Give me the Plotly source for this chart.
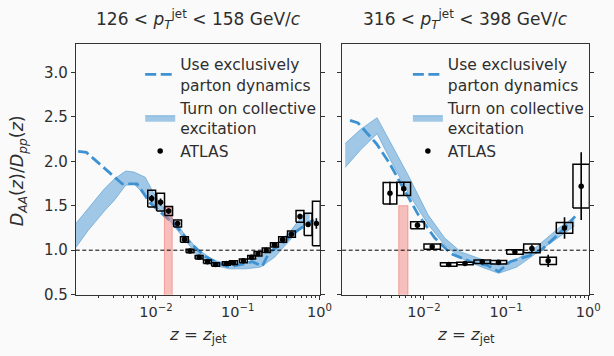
import plotly.graph_objects as go

# ---------------- data: left panel (126 < pT < 158 GeV/c) ----------------
L_MODEL_Z = [0.00112, 0.00141, 0.00389, 0.00589, 0.00851, 0.0135, 0.0178, 0.0251, 0.0398,
             0.0631, 0.0794, 0.112, 0.151, 0.200, 0.240, 0.355, 0.501, 0.708, 0.851]
L_MODEL_Y = [2.11, 2.10, 1.745, 1.745, 1.53, 1.37, 1.27, 1.10, 0.93,
             0.84, 0.81, 0.84, 0.87, 0.82, 0.97, 1.08, 1.20, 1.30, 1.34]

L_BAND_Z = [0.00105, 0.00148, 0.00234, 0.00309, 0.00427, 0.00537, 0.00741, 0.00977, 0.0126, 0.0158,
            0.0224, 0.0316, 0.0501, 0.0794, 0.126, 0.191, 0.282, 0.447, 0.631, 0.759]
L_BAND_HI = [1.30, 1.47, 1.69, 1.80, 1.89, 1.88, 1.82, 1.61, 1.47, 1.36,
             1.18, 1.02, 0.89, 0.84, 0.86, 0.93, 1.03, 1.22, 1.40, 1.42]
L_BAND_LO = [1.03, 1.22, 1.44, 1.56, 1.73, 1.745, 1.62, 1.50, 1.40, 1.30,
             1.12, 0.95, 0.83, 0.79, 0.79, 0.81, 0.92, 1.12, 1.28, 1.32]

L_ATLAS_Z = [0.00887, 0.0114, 0.0143, 0.0184, 0.0223, 0.0261, 0.0337, 0.0426, 0.0536, 0.0726, 0.0887,
             0.117, 0.148, 0.177, 0.223, 0.281, 0.354, 0.454, 0.577, 0.726, 0.916]
L_ATLAS_Y = [1.58, 1.54, 1.44, 1.30, 1.12, 0.99, 0.92, 0.87, 0.84, 0.85, 0.86,
             0.88, 0.92, 0.96, 1.00, 1.06, 1.12, 1.18, 1.38, 1.29, 1.30]
L_ATLAS_STAT = [0.04, 0.04, 0.03, 0.02, 0.01, 0.01, 0.01, 0.01, 0.01, 0.01, 0.01,
                0.01, 0.01, 0.01, 0.01, 0.01, 0.01, 0.02, 0.03, 0.03, 0.06]
L_ATLAS_SYST = [0.095, 0.10, 0.05, 0.04, 0.03, 0.02, 0.02, 0.02, 0.02, 0.02, 0.02,
                0.02, 0.02, 0.025, 0.025, 0.025, 0.03, 0.035, 0.065, 0.125, 0.25]
L_ATLAS_BIN_HW = [0.048] * 21          # half bin width in decades
L_MARKER_BAND = [0.0127, 0.0158, 1.48]  # z_low, z_high, top

# ---------------- data: right panel (316 < pT < 398 GeV/c) ----------------
R_MODEL_Z = [0.00126, 0.00158, 0.00263, 0.00380, 0.00537, 0.00851, 0.0135, 0.0214, 0.0372,
             0.0589, 0.0813, 0.112, 0.195, 0.275, 0.479, 0.692]
R_MODEL_Y = [2.46, 2.43, 2.20, 1.98, 1.73, 1.40, 1.14, 0.96, 0.87,
             0.83, 0.76, 0.87, 0.94, 1.01, 1.22, 1.38]

R_BAND_Z = [0.00110, 0.00170, 0.00269, 0.00398, 0.00646, 0.0112, 0.0178, 0.0282, 0.0537,
            0.0813, 0.135, 0.229, 0.437, 0.676]
R_BAND_HI = [2.20, 2.36, 2.49, 2.20, 1.84, 1.40, 1.14, 0.98, 0.89, 0.83, 0.90, 1.03, 1.25, 1.37]
R_BAND_LO = [1.93, 2.13, 2.31, 2.00, 1.64, 1.29, 1.06, 0.91, 0.80, 0.74, 0.81, 0.96, 1.14, 1.27]

R_ATLAS_Z = [0.00386, 0.00568, 0.00834, 0.0126, 0.0200, 0.0316, 0.0513, 0.0807, 0.128, 0.206, 0.325, 0.514, 0.820]
R_ATLAS_Y = [1.64, 1.69, 1.28, 1.04, 0.84, 0.85, 0.87, 0.865, 0.98, 1.02, 0.88, 1.25, 1.72]
R_ATLAS_STAT = [0.13, 0.08, 0.04, 0.02, 0.01, 0.01, 0.02, 0.02, 0.03, 0.04, 0.07, 0.12, 0.38]
R_ATLAS_SYST = [0.12, 0.075, 0.04, 0.03, 0.02, 0.015, 0.02, 0.02, 0.025, 0.05, 0.04, 0.06, 0.245]
R_ATLAS_BIN_HW = [0.083, 0.083, 0.083, 0.10, 0.10, 0.10, 0.10, 0.10, 0.10, 0.10, 0.10, 0.10, 0.10]
R_MARKER_BAND = [0.00494, 0.00638, 1.50]

TITLES = ["126 < <i>p</i><sub><i>T</i></sub><sup>jet</sup> < 158 GeV/<i>c</i>",
          "316 < <i>p</i><sub><i>T</i></sub><sup>jet</sup> < 398 GeV/<i>c</i>"]
NAMES = ["Use exclusively<br>parton dynamics", "Turn on collective<br>excitation", "ATLAS"]
REF_LEVEL = 1.0

FONT = "DejaVu Sans"
TXT = "#2e2e2e"
LINE_C = "#3f92d2"
BAND_FILL = "rgba(70,150,210,0.50)"
BAND_EDGE = "rgba(70,150,210,0.55)"
RED_FILL = "rgba(244,120,110,0.45)"
RED_EDGE = "rgba(240,110,100,0.55)"
BG = "#fafafa"

fig = go.Figure()


def box_path(z, y, syst, hw):
    xs, ys = [], []
    for zi, yi, si, h in zip(z, y, syst, hw):
        lo, hi = zi * 10 ** (-h), zi * 10 ** h
        xs += [lo, hi, hi, lo, lo, None]
        ys += [yi - si, yi - si, yi + si, yi + si, yi - si, None]
    return xs, ys


panels = [
    dict(xa="x", ya="y", leg="legend", mz=L_MODEL_Z, my=L_MODEL_Y, bz=L_BAND_Z, blo=L_BAND_LO, bhi=L_BAND_HI,
         az=L_ATLAS_Z, ay=L_ATLAS_Y, ast=L_ATLAS_STAT, asy=L_ATLAS_SYST, ahw=L_ATLAS_BIN_HW, red=L_MARKER_BAND),
    dict(xa="x2", ya="y2", leg="legend2", mz=R_MODEL_Z, my=R_MODEL_Y, bz=R_BAND_Z, blo=R_BAND_LO, bhi=R_BAND_HI,
         az=R_ATLAS_Z, ay=R_ATLAS_Y, ast=R_ATLAS_STAT, asy=R_ATLAS_SYST, ahw=R_ATLAS_BIN_HW, red=R_MARKER_BAND),
]

for p in panels:
    common = dict(xaxis=p["xa"], yaxis=p["ya"], legend=p["leg"], hoverinfo="skip")
    # band
    fig.add_trace(go.Scatter(x=p["bz"], y=p["blo"], mode="lines", line=dict(color=BAND_EDGE, width=1),
                             showlegend=False, **common))
    fig.add_trace(go.Scatter(x=p["bz"], y=p["bhi"], mode="lines", line=dict(color=BAND_EDGE, width=1),
                             fill="tonexty", fillcolor=BAND_FILL, name=NAMES[1], legendrank=2, **common))
    # dashed model
    fig.add_trace(go.Scatter(x=p["mz"], y=p["my"], mode="lines",
                             line=dict(color=LINE_C, width=2.8, dash="11px,4.5px"),
                             name=NAMES[0], legendrank=1, **common))
    # red marker band
    zl, zh, top = p["red"]
    fig.add_trace(go.Scatter(x=[zl, zh, zh, zl, zl], y=[0, 0, top, top, 0], mode="lines", fill="toself",
                             fillcolor=RED_FILL, line=dict(color=RED_EDGE, width=1), showlegend=False, **common))
    # systematic boxes
    bx, by = box_path(p["az"], p["ay"], p["asy"], p["ahw"])
    fig.add_trace(go.Scatter(x=bx, y=by, mode="lines", line=dict(color="black", width=1.5),
                             showlegend=False, **common))
    # data points
    fig.add_trace(go.Scatter(x=p["az"], y=p["ay"], mode="markers",
                             marker=dict(color="black", size=5.5),
                             error_y=dict(type="data", array=p["ast"], color="black", thickness=1.6, width=0),
                             name=NAMES[2], legendrank=3, **common))

# reference line y = 1
for xr, yr in [("x domain", "y"), ("x2 domain", "y2")]:
    fig.add_shape(type="line", xref=xr, yref=yr, x0=0, x1=1, y0=REF_LEVEL, y1=REF_LEVEL,
                  line=dict(color="black", width=1, dash="4px,2.5px"), layer="above")

minor_vals = [m * 10 ** e for e in (-3, -2, -1) for m in range(2, 10)]
xax = dict(type="log", showgrid=False, zeroline=False, showline=True, linecolor="#333", linewidth=1,
           mirror=True, ticks="outside", ticklen=4, tickcolor="#333", tickwidth=1,
           tickvals=[0.01, 0.1, 1], ticktext=["10<sup>−2</sup>", "10<sup>−1</sup>", "10<sup>0</sup>"],
           tickfont=dict(family=FONT, size=14.5, color=TXT),
           minor=dict(tickvals=minor_vals, ticks="outside", ticklen=2, tickcolor="#333", tickwidth=0.8))
yax = dict(range=[0.5, 3.32], showgrid=False, zeroline=False, showline=True, linecolor="#333", linewidth=1,
           mirror="ticks", ticks="outside", ticklen=4, tickcolor="#333", tickwidth=1,
           tickvals=[0.5, 1.0, 1.5, 2.0, 2.5, 3.0], ticktext=["0.5", "1.0", "1.5", "2.0", "2.5", "3.0"],
           tickfont=dict(family=FONT, size=15, color=TXT))

Y_DOM = [(356 - 302.3) / 356, (356 - 45) / 356]
LEG = dict(yanchor="top", xanchor="left", bgcolor="rgba(0,0,0,0)",
           font=dict(family=FONT, size=15.5, color=TXT), traceorder="normal", itemwidth=30)
fig.update_layout(
    width=614, height=356, margin=dict(l=0, r=0, t=0, b=0),
    paper_bgcolor=BG, plot_bgcolor=BG,
    font=dict(family=FONT, color=TXT),
    xaxis=dict(xax, domain=[77.3 / 614, 326.7 / 614], range=[-2.98, 0.01], anchor="y"),
    yaxis=dict(yax, domain=Y_DOM, anchor="x"),
    xaxis2=dict(xax, domain=[349 / 614, 601 / 614], range=[-2.995, 0.012], anchor="y2"),
    yaxis2=dict(yax, domain=Y_DOM, anchor="x2", showticklabels=False),
    legend=dict(LEG, x=143 / 614, y=(356 - 49) / 356),
    legend2=dict(LEG, x=416 / 614, y=(356 - 49) / 356),
    showlegend=True,
)

for cx, t in zip([202 / 614, 475 / 614], TITLES):
    fig.add_annotation(x=cx, y=(356 - 20) / 356, xref="paper", yref="paper", text=t, showarrow=False,
                       font=dict(family=FONT, size=17, color=TXT), xanchor="center", yanchor="middle")
    fig.add_annotation(x=cx, y=(356 - 344) / 356, xref="paper", yref="paper",
                       text="<i>z</i> = <i>z</i><sub>jet</sub>", showarrow=False,
                       font=dict(family=FONT, size=16.5, color=TXT), xanchor="center", yanchor="middle")

fig.add_annotation(x=19 / 614, y=(356 - 175) / 356, xref="paper", yref="paper", textangle=-90,
                   text="<i>D</i><sub><i>AA</i></sub>(<i>z</i>)/<i>D</i><sub><i>pp</i></sub>(<i>z</i>)",
                   showarrow=False, font=dict(family=FONT, size=17.5, color=TXT),
                   xanchor="center", yanchor="middle")

fig.write_html("out.html")
